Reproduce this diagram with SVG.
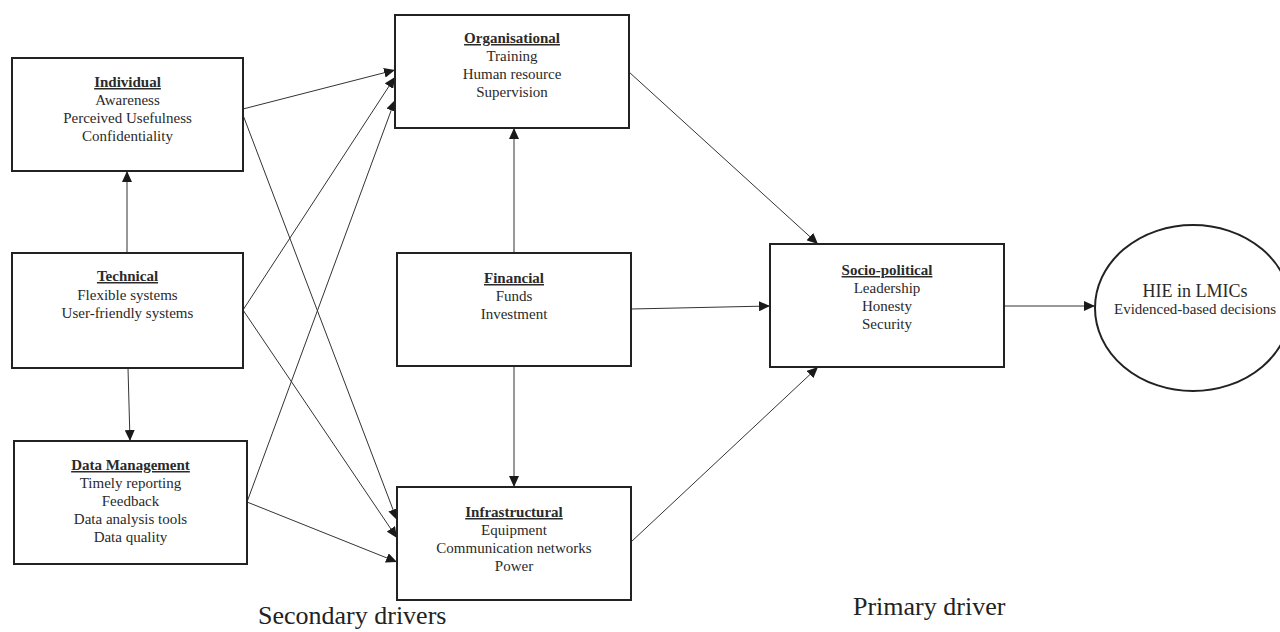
<svg xmlns="http://www.w3.org/2000/svg" width="1280" height="632" viewBox="0 0 1280 632">
<style>
  .box { fill: #ffffff; stroke: #222222; stroke-width: 2; }
  .t { font-family: "Liberation Serif", "Times New Roman", serif; font-size: 15px; fill: #2a2a2a; text-anchor: middle; }
  .h { font-weight: bold; text-decoration: underline; }
  .big { font-family: "Liberation Serif", "Times New Roman", serif; font-size: 26px; fill: #222222; }
  .c line { stroke: #333333; stroke-width: 1; marker-end: url(#ah); }
</style>
<defs>
  <marker id="ah" markerUnits="userSpaceOnUse" markerWidth="12" markerHeight="10" refX="11" refY="5" orient="auto">
    <path d="M0,0 L11,5 L0,10 Z" fill="#1a1a1a"/>
  </marker>
</defs>
<rect width="1280" height="632" fill="#ffffff"/>

<g id="connectors" class="c">
  <line x1="127" y1="253" x2="127" y2="171"/>
  <line x1="128" y1="368" x2="130" y2="441"/>
  <line x1="243" y1="109" x2="395" y2="70"/>
  <line x1="243" y1="115" x2="397" y2="520"/>
  <line x1="243" y1="310" x2="395" y2="77"/>
  <line x1="243" y1="310" x2="397" y2="538"/>
  <line x1="247" y1="502" x2="395" y2="100"/>
  <line x1="247" y1="502" x2="397" y2="562"/>
  <line x1="514" y1="253" x2="514" y2="128"/>
  <line x1="514" y1="366" x2="514" y2="487"/>
  <line x1="631" y1="309" x2="770" y2="306"/>
  <line x1="629" y1="72" x2="818" y2="244"/>
  <line x1="631" y1="542" x2="818" y2="367"/>
  <line x1="1004" y1="306" x2="1095" y2="306"/>
</g>

<g id="individual">
  <rect class="box" x="12" y="58" width="231" height="113"/>
  <text class="t h" x="127.5" y="87">Individual</text>
  <text class="t" x="127.5" y="105">Awareness</text>
  <text class="t" x="127.5" y="123">Perceived Usefulness</text>
  <text class="t" x="127.5" y="141">Confidentiality</text>
</g>

<g id="technical">
  <rect class="box" x="12" y="253" width="231" height="115"/>
  <text class="t h" x="127.5" y="281">Technical</text>
  <text class="t" x="127.5" y="300">Flexible systems</text>
  <text class="t" x="127.5" y="318">User-friendly systems</text>
</g>

<g id="data-management">
  <rect class="box" x="14" y="441" width="233" height="123"/>
  <text class="t h" x="130.5" y="470">Data Management</text>
  <text class="t" x="130.5" y="488">Timely reporting</text>
  <text class="t" x="130.5" y="506">Feedback</text>
  <text class="t" x="130.5" y="524">Data analysis tools</text>
  <text class="t" x="130.5" y="542">Data quality</text>
</g>

<g id="organisational">
  <rect class="box" x="395" y="15" width="234" height="113"/>
  <text class="t h" x="512" y="43">Organisational</text>
  <text class="t" x="512" y="61">Training</text>
  <text class="t" x="512" y="79">Human resource</text>
  <text class="t" x="512" y="97">Supervision</text>
</g>

<g id="financial">
  <rect class="box" x="397" y="253" width="234" height="113"/>
  <text class="t h" x="514" y="283">Financial</text>
  <text class="t" x="514" y="301">Funds</text>
  <text class="t" x="514" y="319">Investment</text>
</g>

<g id="infrastructural">
  <rect class="box" x="397" y="487" width="234" height="113"/>
  <text class="t h" x="514" y="517">Infrastructural</text>
  <text class="t" x="514" y="535">Equipment</text>
  <text class="t" x="514" y="553">Communication networks</text>
  <text class="t" x="514" y="571">Power</text>
</g>

<g id="socio-political">
  <rect class="box" x="770" y="244" width="234" height="123"/>
  <text class="t h" x="887" y="275">Socio-political</text>
  <text class="t" x="887" y="293">Leadership</text>
  <text class="t" x="887" y="311">Honesty</text>
  <text class="t" x="887" y="329">Security</text>
</g>

<g id="hie">
  <ellipse class="box" cx="1193" cy="308" rx="98" ry="83"/>
  <text class="t" x="1195" y="297" style="font-size:18px">HIE in LMICs</text>
  <text class="t" x="1195" y="314">Evidenced-based decisions</text>
</g>

<g id="labels">
  <text class="big" x="258" y="624">Secondary drivers</text>
  <text class="big" x="853" y="615">Primary driver</text>
</g>
</svg>
